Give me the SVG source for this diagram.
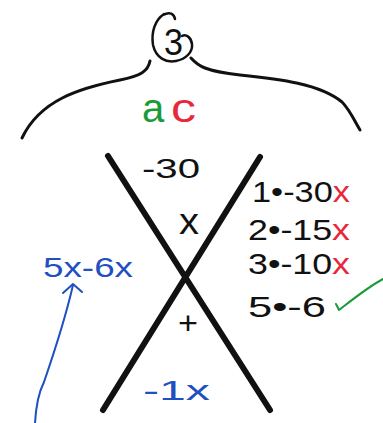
<svg xmlns="http://www.w3.org/2000/svg" width="383" height="423" viewBox="0 0 383 423">
<style>
.ink{fill:none;stroke:#111;stroke-linecap:round;stroke-linejoin:round}
.t{font-family:"Liberation Sans",Arial,sans-serif;fill:#111}
.blue{fill:#1f4fc0}
.red{fill:#e8283a}
.green{fill:#1a9a3a}
</style>
<rect width="383" height="423" fill="#fff"/>
<g id="head">
<path class="ink" stroke-width="2.5" d="M163,15 C170,11 174,14 175,19 M164,14 C155,20 151,32 153,45 C156,58 166,63 176,61 C186,59 193,52 192,44 C191,37 186,34 182,36"/>
<text class="t" x="164" y="55" font-size="36" textLength="19" lengthAdjust="spacingAndGlyphs">3</text>
</g>
<g id="shoulders">
<path class="ink" stroke-width="3" d="M150,61 C148,71 141,76 120,80 C80,88 40,100 22,138"/>
<path class="ink" stroke-width="3" d="M191,58 C198,66 205,71 240,75 C280,79 320,84 342,102 C350,110 355,122 360,130"/>
</g>
<g id="ac">
<text class="t green" x="142" y="122" font-size="40">a</text>
<text class="t red" x="171" y="122" font-size="40" textLength="25" lengthAdjust="spacingAndGlyphs">c</text>
</g>
<g id="cross">
<path class="ink" stroke-width="6" d="M108,156 L270,410 M260,157 L103,410"/>
</g>
<g id="labels">
<text class="t" x="142" y="178" font-size="28" textLength="58" lengthAdjust="spacingAndGlyphs">-30</text>
<text class="t" x="179" y="234" font-size="36" textLength="20" lengthAdjust="spacingAndGlyphs">x</text>
<text class="t" x="178" y="334" font-size="32" textLength="20" lengthAdjust="spacingAndGlyphs">+</text>
<text class="t blue" x="143" y="400" font-size="28" textLength="67" lengthAdjust="spacingAndGlyphs">-1x</text>
<text class="t blue" x="43" y="277" font-size="28" textLength="90" lengthAdjust="spacingAndGlyphs">5x-6x</text>
</g>
<g id="factors" font-size="30">
<text class="t" x="252" y="202" textLength="98" lengthAdjust="spacingAndGlyphs">1•-30<tspan class="red">x</tspan></text>
<text class="t" x="248" y="240" textLength="102" lengthAdjust="spacingAndGlyphs">2•-15<tspan class="red">x</tspan></text>
<text class="t" x="248" y="274" textLength="102" lengthAdjust="spacingAndGlyphs">3•-10<tspan class="red">x</tspan></text>
<text class="t" x="248" y="317" textLength="78" lengthAdjust="spacingAndGlyphs">5•-6</text>
<path fill="none" stroke="#1a9a3a" stroke-width="2" stroke-linecap="round" stroke-linejoin="round" d="M336,304 L339,310 C352,300 368,287 383,279"/>
</g>
<g id="arrow" fill="none" stroke="#1f4fc0" stroke-width="2" stroke-linecap="round" stroke-linejoin="round">
<path d="M35,423 C36,405 39,392 44,382 C55,350 65,320 73,285"/>
<path d="M63,293 L73,284 L82,292"/>
</g>
</svg>
